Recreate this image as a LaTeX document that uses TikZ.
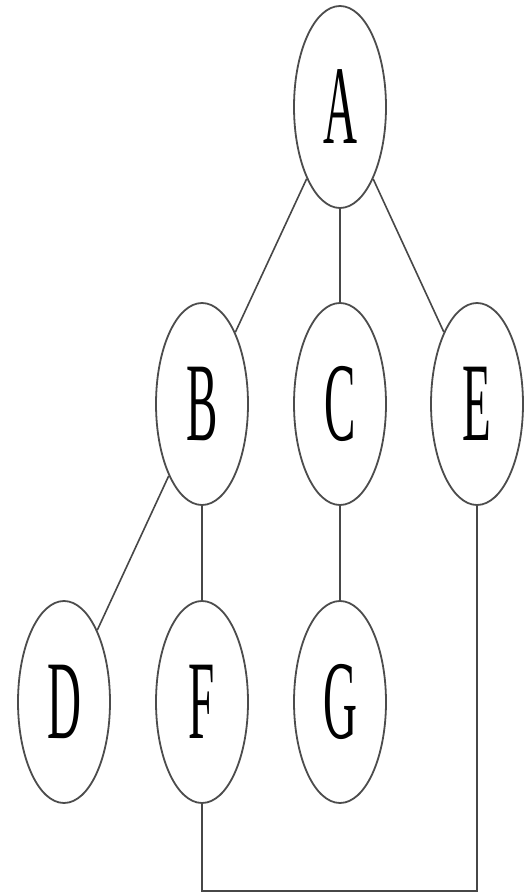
\documentclass[tikz,border=0pt]{standalone}
\usepackage{fontspec}
\setmainfont{Liberation Serif}
\usetikzlibrary{shapes.geometric}
\tikzset{
  vert/.style={ellipse, draw=black!70, line width=1.8pt, minimum width=92pt, minimum height=202pt, inner sep=0pt,
    font=\fontsize{112}{112}\selectfont},
  edge/.style={draw=black!72, line width=1.6pt}
}
\newcommand{\lbl}[1]{\scalebox{0.42}[1]{#1}}
\begin{document}
\begin{tikzpicture}[x=1pt,y=-1pt]
\useasboundingbox (0,0) rectangle (524,896);
\node[vert] (A) at (340,107) {\lbl{A}};
\node[vert] (B) at (202,404) {\lbl{B}};
\node[vert] (C) at (340,404) {\lbl{C}};
\node[vert] (E) at (477,404) {\lbl{E}};
\node[vert] (D) at (64,702) {\lbl{D}};
\node[vert] (F) at (202,702) {\lbl{F}};
\node[vert] (G) at (340,702) {\lbl{G}};
\coordinate (fl) at (202,891);
\coordinate (fr) at (477,891);
\draw[edge] (A) -- (B);
\draw[edge] (A) -- (C);
\draw[edge] (A) -- (E);
\draw[edge] (B) -- (D);
\draw[edge] (B) -- (F);
\draw[edge] (C) -- (G);
\draw[edge, line join=miter] (F.south) -- (fl) -- (fr) -- (E.south);
\end{tikzpicture}
\end{document}
